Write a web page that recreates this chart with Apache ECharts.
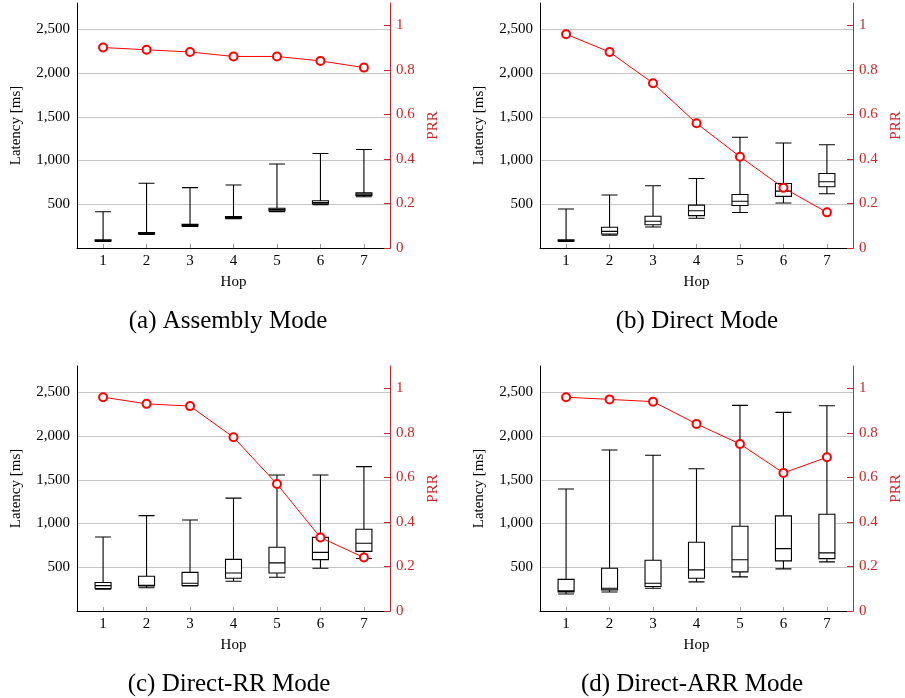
<!DOCTYPE html>
<html>
<head>
<meta charset="utf-8">
<script src="https://cdn.jsdelivr.net/npm/echarts@6/dist/echarts.min.js"></script>
<style>
  html, body { margin: 0; padding: 0; background: #fff; }
  #chart { width: 905px; height: 698px; }
</style>
</head>
<body>
<div id="chart"></div>
<script>
const hops = [1, 2, 3, 4, 5, 6, 7]

// [min, Q1, median, Q3, max] per hop
const assemblyLatency = [
  [75, 80, 88, 95, 415],
  [155, 160, 168, 177, 740],
  [245, 252, 262, 270, 690],
  [335, 340, 350, 360, 720],
  [415, 425, 440, 455, 960],
  [495, 505, 520, 540, 1080],
  [585, 600, 615, 630, 1125],
]
const assemblyPrr = [0.90, 0.89, 0.88, 0.86, 0.86, 0.84, 0.81]

const directLatency = [
  [75, 80, 88, 95, 445],
  [145, 160, 190, 237, 605],
  [240, 265, 305, 363, 712],
  [340, 370, 425, 490, 795],
  [405, 485, 535, 612, 1265],
  [515, 590, 650, 737, 1200],
  [620, 700, 757, 852, 1180],
]
const directPrr = [0.96, 0.88, 0.74, 0.56, 0.41, 0.27, 0.16]

const directRrLatency = [
  [248, 258, 290, 325, 845],
  [265, 285, 295, 397, 1090],
  [287, 292, 318, 442, 1040],
  [340, 375, 435, 590, 1290],
  [385, 435, 550, 728, 1555],
  [488, 587, 670, 842, 1555],
  [600, 682, 775, 935, 1650],
]
const directRrPrr = [0.96, 0.93, 0.92, 0.78, 0.57, 0.33, 0.24]

const directArrLatency = [
  [195, 218, 230, 362, 1395],
  [218, 241, 260, 488, 1840],
  [260, 280, 317, 580, 1780],
  [333, 374, 470, 785, 1625],
  [390, 447, 585, 968, 2350],
  [481, 573, 713, 1087, 2270],
  [561, 599, 664, 1105, 2345],
]
const directArrPrr = [0.96, 0.95, 0.94, 0.84, 0.75, 0.62, 0.69]

const latencyTicks = [500, 1000, 1500, 2000, 2500]
const prrTicks = [0, 0.2, 0.4, 0.6, 0.8, 1]

const panels = [
  { caption: '(a) Assembly Mode', latency: assemblyLatency, prr: assemblyPrr, left: 77, top: 3, cx: 223 },
  { caption: '(b) Direct Mode', latency: directLatency, prr: directPrr, left: 540, top: 3, cx: 692 },
  { caption: '(c) Direct-RR Mode', latency: directRrLatency, prr: directRrPrr, left: 77, top: 366, cx: 224 },
  { caption: '(d) Direct-ARR Mode', latency: directArrLatency, prr: directArrPrr, left: 540, top: 366, cx: 687 },
]

const FONT = 'Liberation Serif'
const RED = '#c62828'

const grid = [], xAxis = [], yAxis = [], series = [], title = []

panels.forEach((p, i) => {
  grid.push({ left: p.left, top: p.top, width: 313, height: 245 })

  xAxis.push({
    type: 'value', gridIndex: i, min: 0.4, max: 7.6,
    name: 'Hop', nameLocation: 'middle', nameGap: 27,
    nameTextStyle: { fontFamily: FONT, fontSize: 15, color: '#000' },
    axisLine: { lineStyle: { color: '#000', width: 1 } },
    axisTick: { show: true, inside: true, length: 4, customValues: hops, lineStyle: { color: '#999' } },
    axisLabel: { customValues: hops, margin: 6, fontFamily: FONT, fontSize: 15, color: '#000' },
    splitLine: { show: false },
  })

  yAxis.push({
    type: 'value', gridIndex: i, min: 0, max: 2800, position: 'left',
    name: 'Latency [ms]', nameLocation: 'middle', nameGap: 53, nameRotate: 90,
    nameTextStyle: { fontFamily: FONT, fontSize: 15, color: '#000' },
    axisLine: { show: true, lineStyle: { color: '#000', width: 1 } },
    axisTick: { show: false, customValues: latencyTicks },
    axisLabel: {
      customValues: latencyTicks, margin: 7, fontFamily: FONT, fontSize: 15, color: '#000',
      formatter: v => v.toLocaleString('en-US'),
    },
    splitLine: { show: true, lineStyle: { color: '#c4c4c4', width: 1 } },
  })

  yAxis.push({
    type: 'value', gridIndex: i, min: 0, max: 1.1, position: 'right',
    name: 'PRR', nameLocation: 'middle', nameGap: 36, nameRotate: 90,
    nameTextStyle: { fontFamily: FONT, fontSize: 15, color: RED },
    axisLine: { show: true, lineStyle: { color: RED, width: 1 } },
    axisTick: { show: true, inside: true, length: 6, customValues: prrTicks, lineStyle: { color: RED } },
    axisLabel: { customValues: prrTicks, margin: 6, fontFamily: FONT, fontSize: 15, color: RED },
    splitLine: { show: false },
  })

  series.push({
    type: 'boxplot', layout: 'horizontal',
    xAxisIndex: i, yAxisIndex: i * 2,
    boxWidth: [16, 16],
    encode: { x: 0, y: [1, 2, 3, 4, 5] },
    data: hops.map((h, k) => [h, ...p.latency[k]]),
    itemStyle: { color: '#fff', borderColor: '#000', borderWidth: 1.1 },
    silent: true, z: 2,
  })

  series.push({
    type: 'line',
    xAxisIndex: i, yAxisIndex: i * 2 + 1,
    data: hops.map((h, k) => [h, p.prr[k]]),
    symbol: 'emptyCircle', symbolSize: 8,
    lineStyle: { color: '#ff0000', width: 1 },
    itemStyle: { color: '#ff0000', borderColor: '#ff0000', borderWidth: 1.1 },
    silent: true, z: 3,
  })

  title.push({
    text: p.caption, left: p.cx, top: p.top + 301, textAlign: 'center',
    textStyle: { fontFamily: FONT, fontSize: 25, fontWeight: 'normal', color: '#000' },
  })
})

const chart = echarts.init(document.getElementById('chart'))
chart.setOption({
  animation: false,
  title, grid, xAxis, yAxis, series,
})
</script>
</body>
</html>
